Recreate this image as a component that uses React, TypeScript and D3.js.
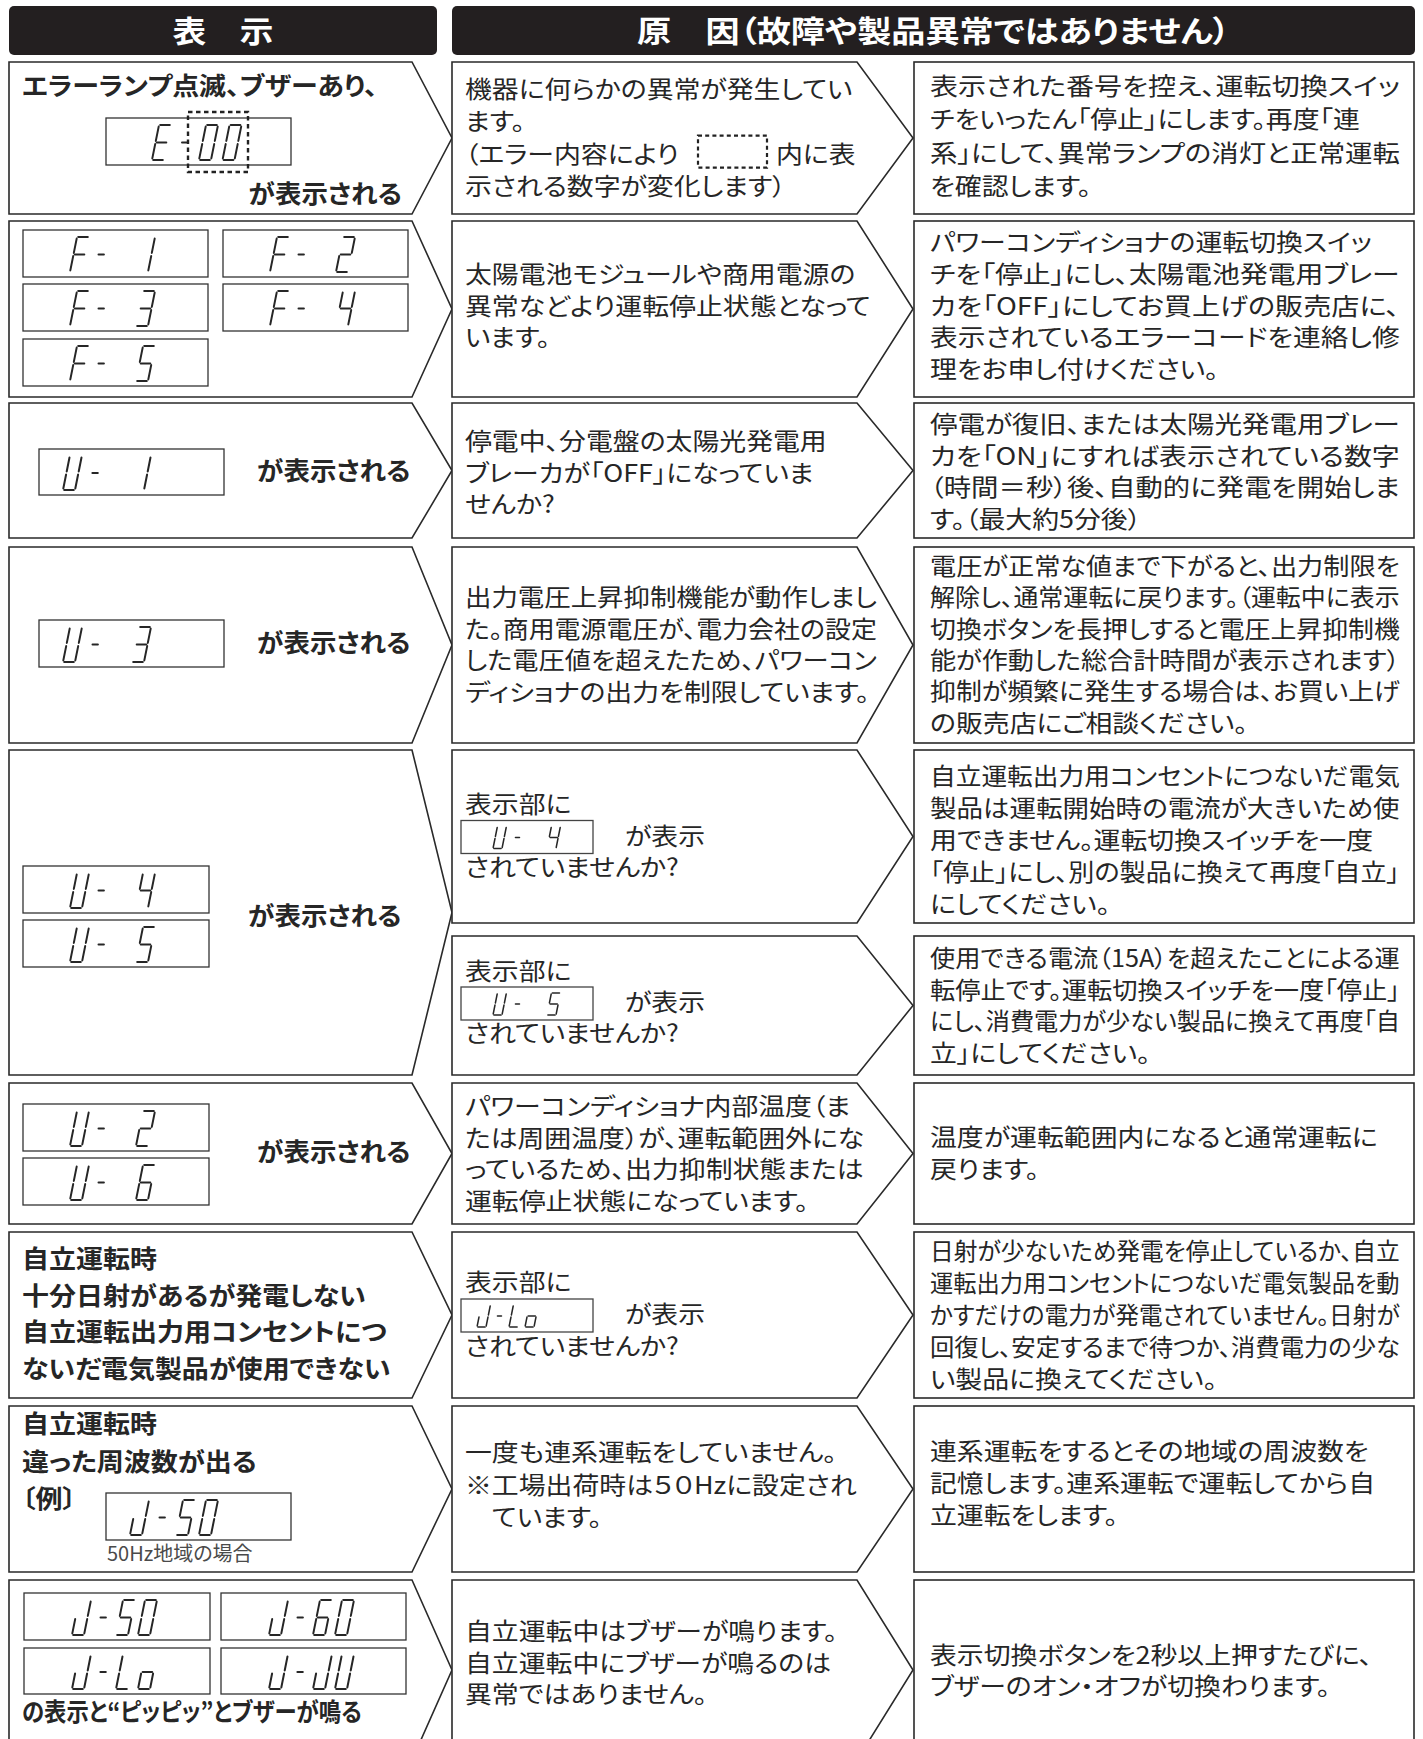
import { useEffect, useRef } from "react";
import * as d3 from "d3";

const W = 1423;
const H = 1739;
const FONT = "'Noto Sans CJK JP', 'Noto Sans', sans-serif";
const INK = "#262626";

// ---------- content ----------
const headerLabels = ["表　示", "原　因（故障や製品異常ではありません）"];
const suffixLabel = "が表示される";
const exampleNote = "50Hz地域の場合";
const buzzerCaption = "の表示と“ピッピッ”とブザーが鳴る";

const symptomLines: string[][] = [
  ["エラーランプ点滅、ブザーあり、"],
  [],
  [],
  [],
  [],
  [],
  ["自立運転時", "十分日射があるが発電しない", "自立運転出力用コンセントにつ", "ないだ電気製品が使用できない"],
  ["自立運転時", "違った周波数が出る", "〔例〕"],
  [],
];

// 7-segment codes shown in the left column, row by row
const displayCodes: string[][] = [
  ["E-00"],
  ["F- 1", "F- 2", "F- 3", "F- 4", "F- 5"],
  ["U- 1"],
  ["U- 3"],
  ["U- 4", "U- 5"],
  ["U- 2", "U- 6"],
  [],
  ["J-50"],
  ["J-50", "J-60", "J-Lo", "J-JU"],
];

// "[code]" = small display inline, "[    ]" = dashed blank
const causeLines: string[][] = [
  ["機器に何らかの異常が発生してい", "ます。", "（エラー内容により[    ]内に表", "示される数字が変化します）"],
  ["太陽電池モジュールや商用電源の", "異常などより運転停止状態となって", "います。"],
  ["停電中、分電盤の太陽光発電用", "ブレーカが「OFF」になっていま", "せんか?"],
  ["出力電圧上昇抑制機能が動作しまし", "た。商用電源電圧が、電力会社の設定", "した電圧値を超えたため、パワーコン", "ディショナの出力を制限しています。"],
  ["表示部に", "[U- 4]が表示", "されていませんか?"],
  ["表示部に", "[U- 5]が表示", "されていませんか?"],
  ["パワーコンディショナ内部温度（ま", "たは周囲温度）が、運転範囲外にな", "っているため、出力抑制状態または", "運転停止状態になっています。"],
  ["表示部に", "[J-Lo]が表示", "されていませんか?"],
  ["一度も連系運転をしていません。", "※工場出荷時は５０Hzに設定され", "　ています。"],
  ["自立運転中はブザーが鳴ります。", "自立運転中にブザーが鳴るのは", "異常ではありません。"],
];

const remedyLines: string[][] = [
  ["表示された番号を控え、運転切換スイッ", "チをいったん「停止」にします。再度「連", "系」にして、異常ランプの消灯と正常運転", "を確認します。"],
  ["パワーコンディショナの運転切換スイッ", "チを「停止」にし、太陽電池発電用ブレー", "カを「OFF」にしてお買上げの販売店に、", "表示されているエラーコードを連絡し修", "理をお申し付けください。"],
  ["停電が復旧、または太陽光発電用ブレー", "カを「ON」にすれば表示されている数字", "（時間＝秒）後、自動的に発電を開始しま", "す。（最大約5分後）"],
  ["電圧が正常な値まで下がると、出力制限を", "解除し、通常運転に戻ります。（運転中に表示", "切換ボタンを長押しすると電圧上昇抑制機", "能が作動した総合計時間が表示されます）", "抑制が頻繁に発生する場合は、お買い上げ", "の販売店にご相談ください。"],
  ["自立運転出力用コンセントにつないだ電気", "製品は運転開始時の電流が大きいため使", "用できません。運転切換スイッチを一度", "「停止」にし、別の製品に換えて再度「自立」", "にしてください。"],
  ["使用できる電流（15A）を超えたことによる運", "転停止です。運転切換スイッチを一度「停止」", "にし、消費電力が少ない製品に換えて再度「自", "立」にしてください。"],
  ["温度が運転範囲内になると通常運転に", "戻ります。"],
  ["日射が少ないため発電を停止しているか、自立", "運転出力用コンセントにつないだ電気製品を動", "かすだけの電力が発電されていません。日射が", "回復し、安定するまで待つか、消費電力の少な", "い製品に換えてください。"],
  ["連系運転をするとその地域の周波数を", "記憶します。連系運転で運転してから自", "立運転をします。"],
  ["表示切換ボタンを2秒以上押すたびに、", "ブザーのオン・オフが切換わります。"],
];

const SEGMENTS: Record<string, string> = {
  "0": "abcdef", "1": "bc", "2": "abged", "3": "abgcd", "4": "fgbc", "5": "afgcd", "6": "afgedc",
  E: "adefg", F: "aefg", U: "bcdef", J: "bcde", L: "def", o: "cdeg", "-": "g", " ": "",
};

// ---------- layout (px) ----------
const COL = { lx0: 9, lx1: 412, ltip: 452, mx0: 452, mx1: 857, mtip: 913, rx0: 914, rx1: 1414 };
const headerBoxes = [[9, 6, 428, 49], [452, 6, 963, 49]];
const headerWidths = [101, 593];
const leftRows = [[62, 214], [221, 397], [403, 538], [547, 743], [750, 1075], [1083, 1224], [1232, 1398], [1406, 1572], [1580, 1760]];
const midRows = [[62, 214], [221, 397], [403, 538], [547, 743], [750, 923], [936, 1075], [1083, 1224], [1232, 1398], [1406, 1572], [1580, 1760]];
const symptomBase: Record<number, number[]> = { 0: [95, 0], 6: [1268, 36.7], 7: [1433, 37.5] };
const suffixPos = [[0, 402, 203, 1], [2, 257, 480, 0], [3, 257, 652, 0], [4, 248, 925, 0], [5, 257, 1161, 0]];
const causeBase = [[98, 32.3], [283, 31.7], [450, 31.5], [606, 31.7], [813, 31.5], [980, 31], [1115, 31.7], [1291, 32], [1461, 32.5], [1640, 31.5]];
const remedyBase = [[95, 33.3], [251, 31.8], [433, 31.7], [575, 31.3], [785, 32], [967, 31.5], [1146, 32], [1260, 32], [1460, 32.2], [1664, 31]];
// x, y, w, h, first cell offset, pitch (same order as displayCodes flattened)
const displayBoxes = [
  [106, 118, 185, 47, 46, 23.5],
  [23, 230, 185, 47, 47, 22], [223, 230, 185, 47, 47, 22], [23, 284, 185, 47, 47, 22], [223, 284, 185, 47, 47, 22], [23, 339, 185, 47, 47, 22],
  [39, 449, 185, 46, 24, 23],
  [39, 620, 185, 47, 24, 23],
  [23, 866, 186, 47, 47, 22], [23, 920, 186, 47, 47, 22],
  [23, 1104, 186, 47, 47, 22], [23, 1158, 186, 47, 47, 22],
  [106, 1493, 185, 47, 24, 23],
  [24, 1593, 186, 47, 48, 22], [221, 1593, 185, 47, 48, 22], [24, 1648, 186, 46, 48, 22], [221, 1648, 185, 46, 48, 22],
];
const inlineDisplay = { dx: -4, w: 132, h: 33, tailDx: 160 };
const inlineCells: Record<string, number[]> = { "U- 4": [32, 18], "U- 5": [32, 18], "J-Lo": [16, 16] };
const dashedBlank = { dx: 233, w: 69, h: 32, gap: 9 };
const TEXT_X = { left: 22, mid: 465, right: 930 };
const MAX_W = { left: 382, mid: 412, right: 470 };
const BODY_SIZE = 24;
const SX = 1.12;

type Sel = d3.Selection<SVGGElement, unknown, null, undefined>;

// Text is widened horizontally (the manual's face is a little wide);
// lines that overflow, or nearly fill the box, get their horizontal scale fitted instead.
function addText(parent: Sel, x: number, y: number, str: string, o: any = {}) {
  let sx = o.sx ?? SX;
  const g = parent.append("g");
  const t = g.append("text")
    .attr("font-family", FONT)
    .attr("font-size", o.size ?? BODY_SIZE)
    .attr("font-weight", o.weight ?? 400)
    .attr("fill", o.color ?? INK)
    .attr("text-anchor", o.anchor ?? "start")
    .style("font-feature-settings", "'palt' 1")
    .text(str);
  const raw = (t.node() as SVGTextElement).getComputedTextLength();
  if (o.width) sx = o.width / raw;
  else if (o.maxW && raw * sx > o.maxW * (o.fill ?? 1)) sx = o.maxW / raw;
  g.attr("transform", `translate(${x},${y}) scale(${sx},1)`);
  return raw * sx;
}

function drawCode(g: Sel, code: string, x0: number, yb: number, pitch: number, dw: number, dh: number, sw: number) {
  const s = dh * 0.2;
  const gx = 0.1;
  const gy = 0.045;
  const defs: Record<string, number[][]> = {
    a: [[gx, 1], [1 - gx, 1]],
    b: [[1, 1 - gy], [1, 0.5 + gy]],
    c: [[1, 0.5 - gy], [1, gy]],
    d: [[gx, 0], [1 - gx, 0]],
    e: [[0, 0.5 - gy], [0, gy]],
    f: [[0, 1 - gy], [0, 0.5 + gy]],
    g: [[gx, 0.5], [1 - gx, 0.5]],
  };
  [...code].forEach((ch, i) => {
    const cx = x0 + i * pitch;
    const pt = (u: number, v: number) => [cx + u * dw + v * s, yb - v * dh];
    for (const k of SEGMENTS[ch] ?? "") {
      let [p, q] = defs[k];
      if (ch === "-") { p = [0.25, 0.5]; q = [0.7, 0.5]; }
      const a = pt(p[0], p[1]);
      const b = pt(q[0], q[1]);
      g.append("line")
        .attr("x1", a[0]).attr("y1", a[1]).attr("x2", b[0]).attr("y2", b[1])
        .attr("stroke", INK).attr("stroke-width", sw).attr("stroke-linecap", "round");
    }
  });
}

function arrowPath(x0: number, x1: number, tip: number, top: number, bottom: number) {
  const p = d3.path();
  p.moveTo(x0, top);
  p.lineTo(x1, top);
  p.lineTo(tip, (top + bottom) / 2);
  p.lineTo(x1, bottom);
  p.lineTo(x0, bottom);
  p.closePath();
  return p.toString();
}

export default function App() {
  const svgRef = useRef<SVGSVGElement>(null);

  useEffect(() => {
    if (!svgRef.current) return;
    const svg = d3.select(svgRef.current);
    svg.selectAll("*").remove();
    const root = svg.append("g") as Sel;

    root.append("rect").attr("width", W).attr("height", H).attr("fill", "#fff");

    // Headers
    headerBoxes.forEach(([x, y, w, h], i) => {
      root.append("rect").attr("x", x).attr("y", y).attr("width", w).attr("height", h)
        .attr("rx", 5).attr("fill", "#231f20");
      addText(root, x + w / 2, y + h / 2 + 11, headerLabels[i], {
        size: 30, weight: 700, color: "#fff", anchor: "middle", width: headerWidths[i],
      });
    });

    // Row shapes
    leftRows.forEach(([t, b]) => {
      root.append("path").attr("d", arrowPath(COL.lx0, COL.lx1, COL.ltip, t, b))
        .attr("fill", "#fff").attr("stroke", "#2a2a2a").attr("stroke-width", 1.6);
    });
    midRows.forEach(([t, b]) => {
      root.append("path").attr("d", arrowPath(COL.mx0, COL.mx1, COL.mtip, t, b))
        .attr("fill", "#fff").attr("stroke", "#2a2a2a").attr("stroke-width", 1.6);
      root.append("rect").attr("x", COL.rx0).attr("y", t).attr("width", COL.rx1 - COL.rx0).attr("height", b - t)
        .attr("fill", "#fff").attr("stroke", "#2a2a2a").attr("stroke-width", 1.6);
    });

    // Left column: symptom text
    symptomLines.forEach((lines, r) => {
      const base = symptomBase[r];
      if (!base) return;
      lines.forEach((ln, i) => {
        addText(root, TEXT_X.left, base[0] + i * base[1], ln, { size: 25, weight: 700, maxW: MAX_W.left, sx: 1.08 });
      });
    });
    suffixPos.forEach(([, x, y, end]) => {
      addText(root, x, y, suffixLabel, { size: 25, weight: 700, sx: 1.06, anchor: end ? "end" : "start" });
    });
    addText(root, 107, 1561, exampleNote, { size: 20, color: "#4a4a4a", sx: 1 });
    addText(root, TEXT_X.left, 1721, buzzerCaption, { size: 25, weight: 700, sx: 1.06, maxW: 340 });

    // Left column: 7-segment displays
    const flat = displayCodes.flat();
    flat.forEach((code, i) => {
      const [x, y, w, h, off, pitch] = displayBoxes[i];
      root.append("rect").attr("x", x).attr("y", y).attr("width", w).attr("height", h)
        .attr("fill", "#fff").attr("stroke", "#333").attr("stroke-width", 1.3);
      drawCode(root, code, x + off, y + h - 5, pitch, 12, h - 12, 2);
    });
    // dashed frame around the changing digits
    root.append("rect").attr("x", 188).attr("y", 112).attr("width", 60).attr("height", 60)
      .attr("fill", "none").attr("stroke", "#222").attr("stroke-width", 2.4).attr("stroke-dasharray", "4.5 3.5");

    // Middle column: causes
    causeLines.forEach((lines, r) => {
      const [b0, step] = causeBase[r];
      lines.forEach((ln, i) => {
        const y = b0 + i * step;
        const m = ln.match(/^(.*)\[(.*)\](.*)$/);
        if (!m) {
          addText(root, TEXT_X.mid, y, ln, { maxW: MAX_W.mid });
          return;
        }
        const [, pre, code, post] = m;
        if (pre === "") {
          const bx = TEXT_X.mid + inlineDisplay.dx;
          const by = y - 24;
          root.append("rect").attr("x", bx).attr("y", by).attr("width", inlineDisplay.w).attr("height", inlineDisplay.h)
            .attr("fill", "#fff").attr("stroke", "#444").attr("stroke-width", 1.3);
          const [off, pitch] = inlineCells[code];
          drawCode(root, code, bx + off, by + inlineDisplay.h - 5, pitch, 9, 22, 1.5);
          addText(root, TEXT_X.mid + inlineDisplay.tailDx, y, post);
        } else {
          addText(root, TEXT_X.mid, y, pre, { maxW: dashedBlank.dx - 6 });
          const bx = TEXT_X.mid + dashedBlank.dx;
          root.append("rect").attr("x", bx).attr("y", y - 27).attr("width", dashedBlank.w).attr("height", dashedBlank.h)
            .attr("fill", "none").attr("stroke", "#222").attr("stroke-width", 2.2).attr("stroke-dasharray", "4 3.2");
          addText(root, bx + dashedBlank.w + dashedBlank.gap, y, post);
        }
      });
    });

    // Right column: remedies
    remedyLines.forEach((lines, r) => {
      const [b0, step] = remedyBase[r];
      lines.forEach((ln, i) => {
        addText(root, TEXT_X.right, b0 + i * step, ln, { maxW: MAX_W.right, fill: 0.955 });
      });
    });
  }, []);

  return (
    <>
      <style>{"body{margin:0;background:#fff}"}</style>
      <svg ref={svgRef} width={W} height={H} viewBox={`0 0 ${W} ${H}`} style={{ display: "block" }} />
    </>
  );
}
